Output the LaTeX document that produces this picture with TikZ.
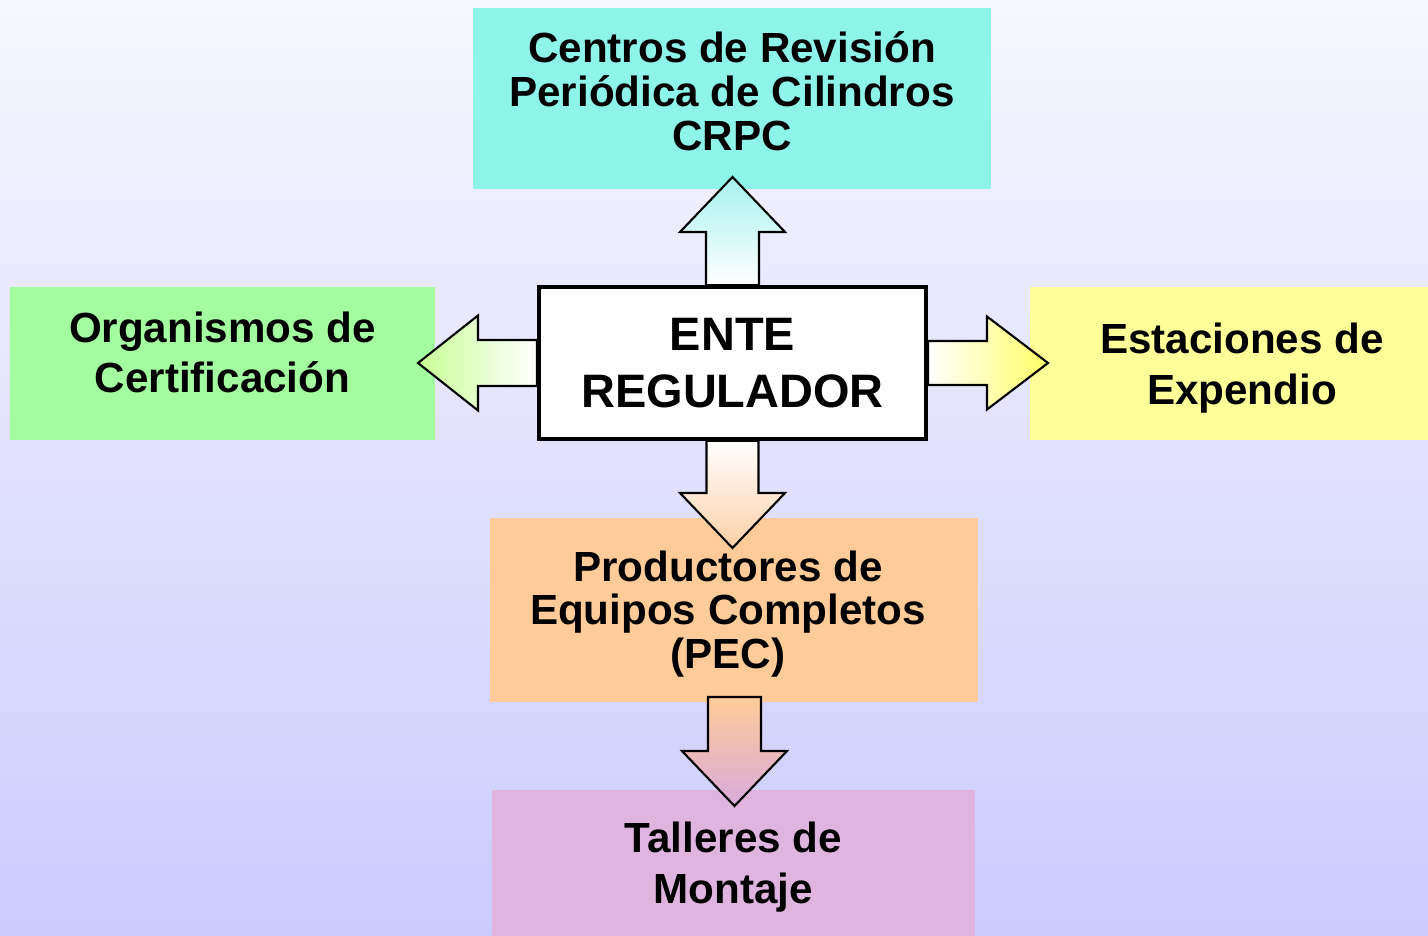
\documentclass[tikz,border=0pt]{standalone}
\usepackage{fontspec}
\setmainfont{Liberation Sans}
\usetikzlibrary{calc}

\definecolor{bgtop}{HTML}{F7F7FE}
\definecolor{bgbot}{HTML}{CBCBFE}
\definecolor{crpccol}{HTML}{8EF4EA}
\definecolor{orgcol}{HTML}{A3FDA0}
\definecolor{estcol}{HTML}{FFFF99}
\definecolor{peccol}{HTML}{FFCC99}
\definecolor{tallcol}{HTML}{DFB5DF}
\definecolor{upcol}{HTML}{A6F2EE}
\definecolor{leftcol}{HTML}{C8FF96}
\definecolor{rightcol}{HTML}{FFFF66}
\definecolor{downcol}{HTML}{FDD0A8}
\definecolor{tallarrow}{HTML}{D9AADB}

\tikzset{
  box/.style={fill=#1, align=center, inner sep=0pt},
  arrowline/.style={draw=black, line width=1.2pt, line join=miter},
}

% block arrow: options, tail, tip, shaft half width, head half width, head length
\newcommand\blockarrow[6]{%
  \coordinate (ahb) at ($(#3)!#6!(#2)$);
  \shadedraw[arrowline,#1] ($(#2)!#4!90:(#3)$) -- ($(ahb)!#4!90:(#3)$)
    -- ($(ahb)!#5!90:(#3)$) -- (#3) -- ($(ahb)!#5!-90:(#3)$)
    -- ($(ahb)!#4!-90:(#3)$) -- ($(#2)!#4!-90:(#3)$) -- cycle;
}

\begin{document}
\begin{tikzpicture}[x=0.02cm,y=-0.02cm]
    \shade[top color=bgtop,bottom color=bgbot] (0,0) rectangle (1428,936);
    \useasboundingbox (0,0) rectangle (1428,936);

    \node[box=crpccol, minimum width=10.36cm, minimum height=3.62cm, text depth=0.3cm,
      font=\bfseries\fontsize{24}{25}\selectfont] (crpc) at (732,98.5)
      {Centros de Revisión\\Periódica de Cilindros\\CRPC};
    \node[box=orgcol, minimum width=8.5cm, minimum height=3.06cm, text depth=0.46cm,
      font=\bfseries\fontsize{24}{28.5}\selectfont] (org) at (222.5,363.5)
      {Organismos de\\Certificación};
    \node[box=estcol, minimum width=7.96cm, minimum height=3.06cm, text depth=-0.06cm,
      font=\bfseries\fontsize{24}{29}\selectfont] (est) at (1229,363.5)
      {\hspace*{0.52cm}Estaciones de\\\hspace*{0.52cm}Expendio};
    \node[box=peccol, minimum width=9.76cm, minimum height=3.68cm, text depth=0.02cm,
      font=\bfseries\fontsize{24}{24.7}\selectfont] (pec) at (734,610)
      {\hspace*{-0.24cm}Productores de\\\hspace*{-0.24cm}Equipos Completos\\\hspace*{-0.24cm}(PEC)};
    \node[box=tallcol, minimum width=9.66cm, minimum height=2.92cm, text depth=0.02cm,
      font=\bfseries\fontsize{24}{29}\selectfont] (tall) at (733.5,863)
      {Talleres de\\Montaje};

    \node[draw, line width=2.5pt, fill=white, align=center, minimum width=7.74cm,
      minimum height=3.03cm, text depth=-0.06cm, font=\bfseries\fontsize{26.7}{32.5}\selectfont]
      (ente) at (732.5,363) {ENTE\\REGULADOR};

    \coordinate (tipN) at (732.5,177);
    \coordinate (tipW) at (418,363);
    \coordinate (tipE) at (1048,363);
    \coordinate (tipS) at (732.5,548);
    \coordinate (pecout) at (734.5,697);
    \coordinate (tipT) at (734.5,806);

    \blockarrow{top color=upcol,bottom color=white}{ente.north}{tipN}{0.53cm}{1.05cm}{1.1cm}
    \blockarrow{left color=leftcol,right color=white}{ente.west}{tipW}{0.46cm}{0.95cm}{1.2cm}
    \blockarrow{left color=white,right color=rightcol}{ente.east}{tipE}{0.44cm}{0.93cm}{1.22cm}
    \blockarrow{top color=white,bottom color=downcol}{ente.south}{tipS}{0.52cm}{1.05cm}{1.1cm}
    \blockarrow{top color=peccol,bottom color=tallarrow}{pecout}{tipT}{0.53cm}{1.05cm}{1.1cm}
\end{tikzpicture}
\end{document}
